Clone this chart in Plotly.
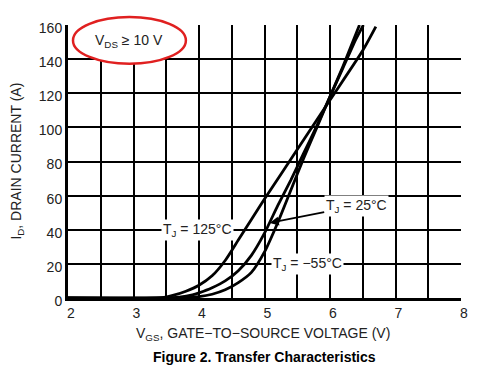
import plotly.graph_objects as go

# Data
vgs_125 = [2.0, 3.4, 3.6, 3.8, 4.0, 4.2, 4.4, 4.6, 4.8, 5.0, 5.5, 6.0, 6.5, 6.7]
id_125 = [0, 0, 1.5, 4, 7.5, 13, 22, 34, 46, 58, 87, 116, 145, 159]

vgs_25 = [2.0, 3.45, 3.7, 3.9, 4.0, 4.2, 4.4, 4.6, 4.8, 5.0, 5.2, 5.4, 5.6, 5.8, 6.0, 6.2, 6.4, 6.51]
id_25 = [0, 0, 0.5, 1.8, 3, 6, 10, 16, 25, 38, 54, 69, 85, 101, 118, 135, 152, 160]

vgs_m55 = [2.0, 3.5, 3.8, 4.0, 4.2, 4.4, 4.6, 4.8, 5.0, 5.2, 5.4, 5.6, 5.8, 6.0, 6.2, 6.45]
id_m55 = [0, 0, 0.2, 0.8, 2.2, 4.8, 9, 15, 27, 44, 63, 82, 100, 118, 136, 160]

x_ticks = [2, 3, 4, 5, 6, 7, 8]
y_ticks = [0, 20, 40, 60, 80, 100, 120, 140, 160]

FONT = "Liberation Sans, Arial, sans-serif"
TXT = "#222222"

fig = go.Figure()
for xs, ys in [(vgs_125, id_125), (vgs_25, id_25), (vgs_m55, id_m55)]:
    fig.add_trace(go.Scatter(x=xs, y=ys, mode="lines",
                             line=dict(color="black", width=2.8, shape="spline", smoothing=0.6),
                             showlegend=False, hoverinfo="skip"))

fig.update_layout(
    width=486, height=357,
    margin=dict(l=60, r=33, t=15, b=67),
    paper_bgcolor="white", plot_bgcolor="white",
    font=dict(family=FONT, size=14, color=TXT),
    xaxis=dict(range=[2, 8], tickvals=x_ticks,
               showgrid=True, gridcolor="black", gridwidth=1.5,
               minor=dict(dtick=0.5, tick0=2, showgrid=True, gridcolor="black", gridwidth=1.5),
               showline=True, linecolor="black", linewidth=3,
               ticks="", zeroline=False, ticklabelshift=3,
               tickfont=dict(size=14, color=TXT)),
    yaxis=dict(range=[0, 160], tickvals=y_ticks,
               showgrid=True, gridcolor="black", gridwidth=1.5,
               showline=True, linecolor="black", linewidth=3,
               ticks="", zeroline=False, ticklabelshift=3,
               tickfont=dict(size=14, color=TXT)),
)

# Red ellipse highlight around the V_DS condition
fig.add_shape(type="circle", xref="paper", yref="paper",
              x0=0.0127, x1=0.300, y0=0.858, y1=1.029,
              line=dict(color="#e02020", width=2.5), fillcolor="white", layer="above")

ann = [
    dict(x=0.155, y=0.942, xref="paper", yref="paper", xanchor="center", yanchor="middle",
         text="V<sub>DS</sub> ≥ 10 V", showarrow=False, font=dict(size=14, color=TXT)),
    dict(x=3.98, y=40, xref="x", yref="y", xanchor="center", yanchor="middle",
         text="T<sub>J</sub> = 125°C",
         showarrow=False, bgcolor="white", borderpad=1, font=dict(size=14, color=TXT)),
    dict(x=5.08, y=44, xref="x", yref="y", text="T<sub>J</sub> = 25°C",
         showarrow=True, ax=6.40, ay=54, axref="x", ayref="y",
         arrowhead=2, arrowsize=1, arrowwidth=1.8, arrowcolor="black", standoff=0,
         bgcolor="white", borderpad=1, font=dict(size=14, color=TXT)),
    dict(x=5.65, y=20, xref="x", yref="y", xanchor="center", yanchor="middle",
         text="T<sub>J</sub> = −55°C",
         showarrow=False, bgcolor="white", borderpad=1, font=dict(size=14, color=TXT)),
    dict(x=0.496, y=-0.131, xref="paper", yref="paper", xanchor="center", yanchor="middle",
         text="V<sub>GS</sub>, GATE−TO−SOURCE VOLTAGE (V)", showarrow=False,
         font=dict(size=14, color=TXT)),
    dict(x=0.5, y=-0.2145, xref="paper", yref="paper", xanchor="center", yanchor="middle",
         text="<b>Figure 2. Transfer Characteristics</b>", showarrow=False,
         font=dict(size=14, color="black")),
    dict(x=-0.132, y=0.5, xref="paper", yref="paper", xanchor="center", yanchor="middle",
         textangle=-90,
         text="I<sub>D</sub>, DRAIN CURRENT (A)", showarrow=False,
         font=dict(size=14, color=TXT)),
]
for a in ann:
    fig.add_annotation(**a)

fig.write_html("out.html")
